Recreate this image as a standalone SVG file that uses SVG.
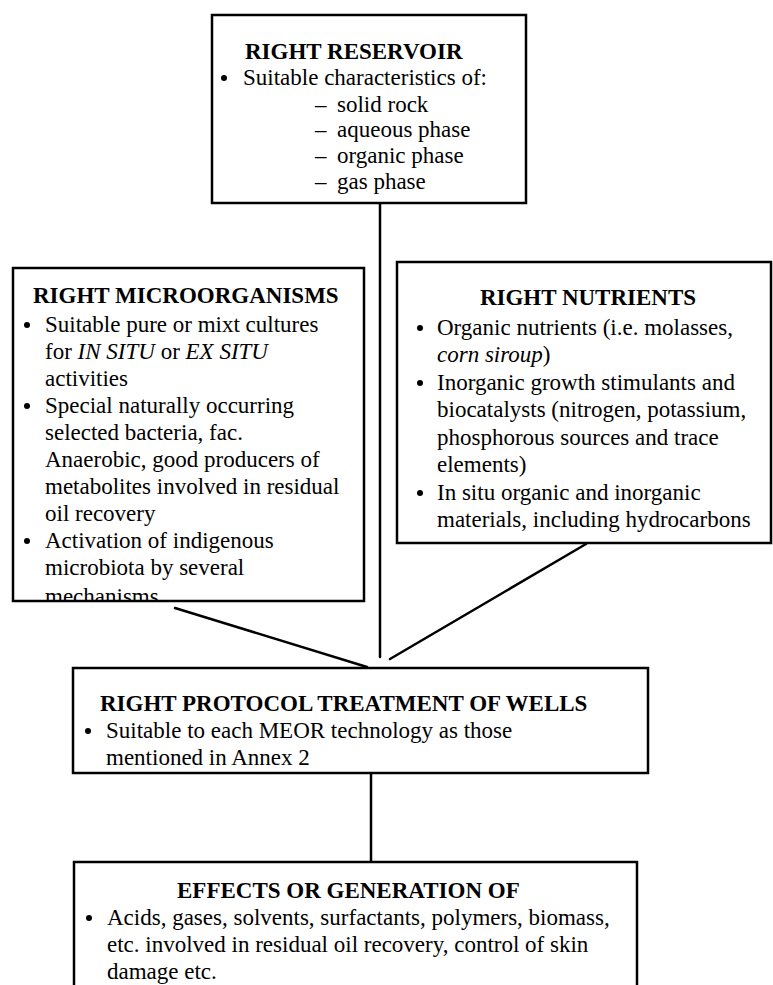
<svg xmlns="http://www.w3.org/2000/svg" width="773" height="985" viewBox="0 0 773 985">
  <style>
    .box { fill: #ffffff; stroke: #000000; stroke-width: 2.5; }
    .link { fill: none; stroke: #000000; stroke-width: 2.5; stroke-linecap: round; }
    text { font-family: "Liberation Serif", "Times New Roman", serif; font-size: 23px; fill: #000000; }
    .title { font-weight: bold; }
    .it { font-style: italic; }
    .dot { fill: #000000; }
  </style>
  <defs>
    <clipPath id="clip-micro">
      <rect x="13" y="268" width="351" height="332"/>
    </clipPath>
  </defs>
  <rect x="0" y="0" width="773" height="985" fill="#ffffff"/>

  <!-- connectors -->
  <g id="connectors">
    <line class="link" x1="380" y1="203" x2="380" y2="657"/>
    <line class="link" x1="175" y1="608" x2="367" y2="667"/>
    <line class="link" x1="586" y1="544" x2="390" y2="659"/>
    <line class="link" x1="371" y1="773" x2="371" y2="862"/>
  </g>

  <!-- top: reservoir -->
  <g id="reservoir">
    <rect class="box" x="212" y="15" width="314" height="188"/>
    <text class="title" x="245" y="59">RIGHT RESERVOIR</text>
    <circle class="dot" cx="224" cy="78" r="3"/>
    <text x="243" y="85">Suitable characteristics of:</text>
    <text x="315" y="112">–</text><text x="337" y="112">solid rock</text>
    <text x="315" y="137">–</text><text x="337" y="137">aqueous phase</text>
    <text x="315" y="163">–</text><text x="337" y="163">organic phase</text>
    <text x="315" y="189">–</text><text x="337" y="189">gas phase</text>
  </g>

  <!-- left: microorganisms -->
  <g id="microorganisms">
    <rect class="box" x="13" y="268" width="351" height="333"/>
    <g clip-path="url(#clip-micro)">
      <text class="title" x="33" y="303">RIGHT MICROORGANISMS</text>
      <circle class="dot" cx="27" cy="325" r="3"/>
      <text x="45" y="332">Suitable pure or mixt cultures</text>
      <text x="45" y="359">for <tspan class="it">IN SITU</tspan> or  <tspan class="it">EX SITU</tspan></text>
      <text x="45" y="386">activities</text>
      <circle class="dot" cx="27" cy="406" r="3"/>
      <text x="45" y="413">Special naturally occurring</text>
      <text x="45" y="440">selected bacteria, fac.</text>
      <text x="45" y="467">Anaerobic, good producers of</text>
      <text x="45" y="494">metabolites involved in residual</text>
      <text x="45" y="521">oil recovery</text>
      <circle class="dot" cx="27" cy="541" r="3"/>
      <text x="45" y="548">Activation of indigenous</text>
      <text x="45" y="575">microbiota by several</text>
      <text x="45" y="604">mechanisms</text>
    </g>
  </g>

  <!-- right: nutrients -->
  <g id="nutrients">
    <rect class="box" x="397" y="262" width="374" height="281"/>
    <text class="title" x="588" y="305" text-anchor="middle">RIGHT NUTRIENTS</text>
    <circle class="dot" cx="420" cy="328" r="3"/>
    <text x="437" y="335">Organic nutrients (i.e. molasses,</text>
    <text x="437" y="362"><tspan class="it">corn siroup</tspan>)</text>
    <circle class="dot" cx="420" cy="383" r="3"/>
    <text x="437" y="390">Inorganic growth stimulants and</text>
    <text x="437" y="417">biocatalysts (nitrogen, potassium,</text>
    <text x="437" y="445">phosphorous sources and trace</text>
    <text x="437" y="472">elements)</text>
    <circle class="dot" cx="420" cy="493" r="3"/>
    <text x="437" y="500">In situ organic and inorganic</text>
    <text x="437" y="527">materials, including hydrocarbons</text>
  </g>

  <!-- middle: protocol -->
  <g id="protocol">
    <rect class="box" x="73" y="668" width="575" height="105"/>
    <text class="title" x="100" y="711">RIGHT PROTOCOL TREATMENT OF WELLS</text>
    <circle class="dot" cx="88" cy="731" r="3"/>
    <text x="106" y="738">Suitable to each MEOR technology as those</text>
    <text x="106" y="765">mentioned in Annex 2</text>
  </g>

  <!-- bottom: effects (box runs past the lower edge of the page) -->
  <g id="effects">
    <rect class="box" x="74" y="862" width="563" height="140"/>
    <text class="title" x="177" y="898">EFFECTS OR GENERATION OF</text>
    <circle class="dot" cx="89" cy="918" r="3"/>
    <text x="107" y="925">Acids, gases, solvents, surfactants, polymers, biomass,</text>
    <text x="107" y="952">etc. involved in residual oil recovery, control of skin</text>
    <text x="107" y="979">damage etc.</text>
  </g>
</svg>
